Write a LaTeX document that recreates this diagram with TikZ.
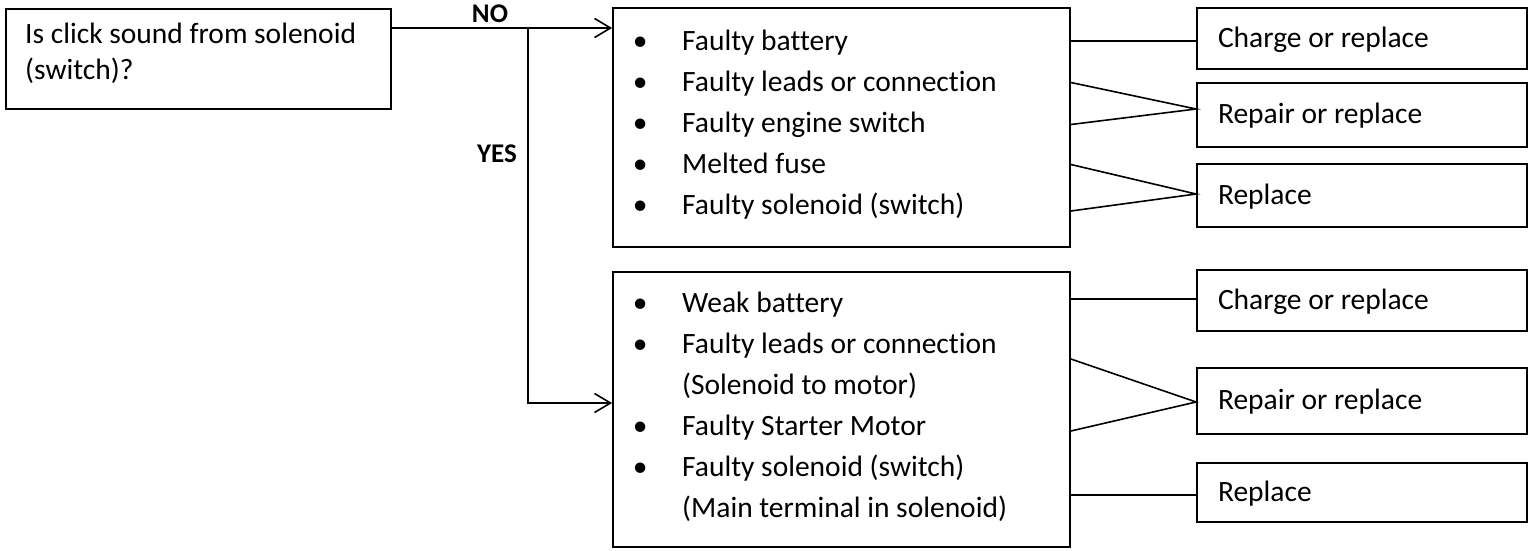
\documentclass[tikz,border=0pt]{standalone}
\usepackage{fontspec}
\setmainfont{Carlito}[Ligatures=NoCommon]
\usetikzlibrary{arrows.meta}

\newcommand{\itm}{\strut\makebox[84pt][c]{\textbullet}}
\newcommand{\cont}{\strut\hspace*{84pt}}

\tikzset{
  box/.style={draw, line width=1.8pt, inner sep=0pt},
  fixbox/.style={box, minimum width=330pt, text width=288pt, inner xsep=21pt, align=flush left, text height=23pt, text depth=5.6pt},
  txt/.style={inner sep=0pt, align=left, anchor=north west},
  answer/.style={anchor=base, inner sep=0pt, font=\fontsize{27pt}{31pt}\selectfont\bfseries},
  link/.style={line width=1.6pt},
  arr/.style={link, -{Straight Barb[length=16pt,width=19pt,line width=1.6pt]}}
}

\begin{document}
\begin{tikzpicture}[x=1pt, y=-1pt, font=\fontsize{29.5pt}{41pt}\selectfont]
    \useasboundingbox (0,0) rectangle (1530,551);

    % Question
    \node[box, minimum width=385pt, minimum height=100pt] (q) at (198.5,59) {};
    \node[txt, font=\fontsize{29.5pt}{36pt}\selectfont] (qtxt) at (25,18.5) {\strut Is click sound from solenoid\\\strut(switch)?};

    % Causes
    \node[box, minimum width=457pt, minimum height=239pt] (b1) at (841.5,127.5) {};
    \node[txt] (l1) at (598,21.5) {\itm Faulty battery\\\itm Faulty leads or connection\\\itm Faulty engine switch\\\itm Melted fuse\\\itm Faulty solenoid (switch)};
    \node[box, minimum width=457pt, minimum height=275pt] (b2) at (841.5,409.5) {};
    \node[txt] (l2) at (598,283.3) {\itm Weak battery\\\itm Faulty leads or connection\\\cont(Solenoid to motor)\\\itm Faulty Starter Motor\\\itm Faulty solenoid (switch)\\\cont(Main terminal in solenoid)};

    % Remedies
    \node[fixbox, minimum height=61pt] (chg1) at (1362,38.5) {Charge or replace};
    \node[fixbox, minimum height=64pt] (rep1) at (1362,115) {Repair or replace};
    \node[fixbox, minimum height=63pt] (rpl1) at (1362,195.5) {Replace};
    \node[fixbox, minimum height=61pt] (chg2) at (1362,300.5) {Charge or replace};
    \node[fixbox, minimum height=66pt] (rep2) at (1362,401) {Repair or replace};
    \node[fixbox, minimum height=59pt] (rpl2) at (1362,492.5) {Replace};

    % Answers
    \node[answer] (no) at (490,23) {NO};
    \node[answer] (yes) at (497,162.5) {YES};

    \coordinate (split) at (528,28);
    \draw[link] (q.east |- split) -- (split);
    \draw[arr] (split) -- (b1.west |- split);
    \draw[arr] (split) |- (b2.west |- 0,403);

    % Links to remedies
    \draw[link, line width=2.6pt] (b1.east |- 0,41) -- (chg1.west |- 0,41);
    \draw[link] (b1.east |- 0,82.5) -- (rep1.west |- 0,109) -- (b1.east |- 0,124.5);
    \draw[link] (b1.east |- 0,164.5) -- (rpl1.west |- 0,194) -- (b1.east |- 0,211);
    \draw[link] (b2.east |- 0,299) -- (chg2.west |- 0,299);
    \draw[link] (b2.east |- 0,359) -- (rep2.west |- 0,402) -- (b2.east |- 0,431);
    \draw[link] (b2.east |- 0,495) -- (rpl2.west |- 0,495);
\end{tikzpicture}
\end{document}
